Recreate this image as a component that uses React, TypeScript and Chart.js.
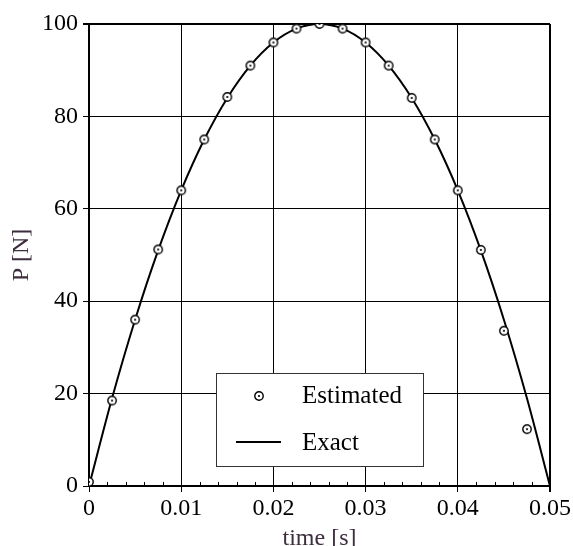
import React, { useEffect, useRef } from "react";
import { Chart, registerables } from "chart.js";

Chart.register(...registerables);

const exactTimes = [
  0, 0.0025, 0.005, 0.0075, 0.01, 0.0125, 0.015, 0.0175, 0.02, 0.0225, 0.025,
  0.0275, 0.03, 0.0325, 0.035, 0.0375, 0.04, 0.0425, 0.045, 0.0475, 0.05,
];
const exactValues = [
  0, 19, 36, 51, 64, 75, 84, 91, 96, 99, 100, 99, 96, 91, 84, 75, 64, 51, 36, 19, 0,
];
const estimatedTimes = [
  0, 0.0025, 0.005, 0.0075, 0.01, 0.0125, 0.015, 0.0175, 0.02, 0.0225, 0.025,
  0.0275, 0.03, 0.0325, 0.035, 0.0375, 0.04, 0.0425, 0.045, 0.0475,
];
const estimatedValues = [
  0.9, 18.5, 36, 51.2, 64, 75, 84.2, 91, 96, 99, 100, 99, 96, 91, 84, 75, 64, 51.1, 33.6, 12.3,
];
const minorTicksX = [
  0.002, 0.004, 0.006, 0.008, 0.012, 0.014, 0.016, 0.018, 0.022, 0.024, 0.026, 0.028,
  0.032, 0.034, 0.036, 0.038, 0.042, 0.044, 0.046, 0.048,
];
const seriesLabels = ["Estimated", "Exact"];
const xTitle = "time [s]";
const yTitle = "P [N]";

const FONT = "'Liberation Serif', 'DejaVu Serif', serif";
const TITLE_COLOR = "#3d2d3d";

function makeMarker(): HTMLCanvasElement {
  const c = document.createElement("canvas");
  c.width = 12;
  c.height = 12;
  const g = c.getContext("2d")!;
  g.beginPath();
  g.arc(6, 6, 4.2, 0, Math.PI * 2);
  g.fillStyle = "#fff";
  g.fill();
  g.lineWidth = 1.4;
  g.strokeStyle = "#000";
  g.stroke();
  g.beginPath();
  g.arc(6, 6, 1.1, 0, Math.PI * 2);
  g.fillStyle = "#000";
  g.fill();
  return c;
}

export default function App() {
  const ref = useRef<HTMLCanvasElement | null>(null);

  useEffect(() => {
    document.body.style.margin = "0";
    const canvas = ref.current!;
    const marker = makeMarker();

    const minorTickPlugin = {
      id: "minorTicks",
      afterDatasetsDraw(chart: any) {
        const { ctx, chartArea } = chart;
        const xs = chart.scales.x;
        ctx.save();
        ctx.strokeStyle = "#000";
        ctx.lineWidth = 1;
        minorTicksX.forEach((v) => {
          const px = Math.round(xs.getPixelForValue(v)) + 0.5;
          ctx.beginPath();
          ctx.moveTo(px, chartArea.bottom);
          ctx.lineTo(px, chartArea.bottom - 4);
          ctx.stroke();
        });
        ctx.restore();
      },
    };

    const legendPlugin = {
      id: "insetLegend",
      afterDraw(chart: any) {
        const { ctx, chartArea: ca } = chart;
        const bx = ca.left + 127;
        const by = ca.top + 349;
        const bw = 207;
        const bh = 93;
        ctx.save();
        ctx.fillStyle = "#fff";
        ctx.fillRect(bx, by, bw, bh);
        ctx.strokeStyle = "#333";
        ctx.lineWidth = 1;
        ctx.strokeRect(Math.round(bx) + 0.5, Math.round(by) + 0.5, bw, bh);
        // Entry 1: marker
        ctx.drawImage(marker, bx + 43 - 6, by + 23 - 6);
        // Entry 2: line
        ctx.beginPath();
        ctx.moveTo(bx + 20, by + 69);
        ctx.lineTo(bx + 65, by + 69);
        ctx.lineWidth = 2;
        ctx.strokeStyle = "#000";
        ctx.stroke();
        ctx.fillStyle = "#000";
        ctx.font = `25px ${FONT}`;
        ctx.textBaseline = "alphabetic";
        ctx.textAlign = "left";
        const labels = chart.data.datasets.map((d: any) => d.label);
        ctx.fillText(labels[0], bx + 86, by + 30);
        ctx.fillText(labels[1], bx + 86, by + 77);
        ctx.restore();
      },
    };

    const chart = new Chart(canvas, {
      type: "scatter",
      data: {
        datasets: [
          {
            label: seriesLabels[0],
            data: estimatedTimes.map((t, i) => ({ x: t, y: estimatedValues[i] })),
            showLine: false,
            pointStyle: marker as any,
            pointRadius: 5,
            borderColor: "#000",
            backgroundColor: "#fff",
          },
          {
            label: seriesLabels[1],
            data: exactTimes.map((t, i) => ({ x: t, y: exactValues[i] })),
            showLine: true,
            pointRadius: 0,
            borderColor: "#000",
            borderWidth: 2,
            cubicInterpolationMode: "monotone",
          },
        ],
      },
      options: {
        animation: false,
        responsive: false,
        maintainAspectRatio: false,
        layout: { padding: { left: 0, right: 23, top: 24, bottom: 0 } },
        plugins: {
          legend: { display: false },
          tooltip: { enabled: false },
        },
        scales: {
          x: {
            type: "linear",
            min: 0,
            max: 0.05,
            afterFit: (s: any) => {
              s.height = 60;
            },
            ticks: {
              stepSize: 0.01,
              color: "#000",
              padding: 2,
              font: { family: FONT, size: 24 },
              callback: (v: any) => Number(Number(v).toFixed(4)).toString(),
            },
            grid: {
              color: "#000",
              lineWidth: (c: any) => (c.tick && Math.abs(c.tick.value - 0.05) < 1e-9 ? 2 : 1),
              tickLength: 6,
            },
            border: { display: true, color: "#000", width: 2 },
            title: {
              display: true,
              text: xTitle,
              color: TITLE_COLOR,
              font: { family: FONT, size: 24, lineHeight: 1.2 },
              padding: { top: 0, bottom: -7 },
            },
          },
          y: {
            type: "linear",
            min: 0,
            max: 100,
            afterFit: (s: any) => {
              s.width = 89;
            },
            ticks: {
              stepSize: 20,
              color: "#000",
              padding: 5,
              font: { family: FONT, size: 24 },
            },
            grid: {
              color: "#000",
              lineWidth: (c: any) => (c.tick && c.tick.value === 100 ? 2 : 1),
              tickLength: 6,
            },
            border: { display: true, color: "#000", width: 2 },
            title: {
              display: true,
              text: yTitle,
              color: TITLE_COLOR,
              font: { family: FONT, size: 24, lineHeight: 1.2 },
              padding: { top: 7, bottom: 0 },
            },
          },
        },
      },
      plugins: [minorTickPlugin, legendPlugin],
    });

    return () => chart.destroy();
  }, []);

  return (
    <div style={{ width: 573, height: 546, overflow: "hidden", background: "#fff" }}>
      <canvas ref={ref} width={573} height={546} style={{ display: "block", width: 573, height: 546 }} />
    </div>
  );
}
